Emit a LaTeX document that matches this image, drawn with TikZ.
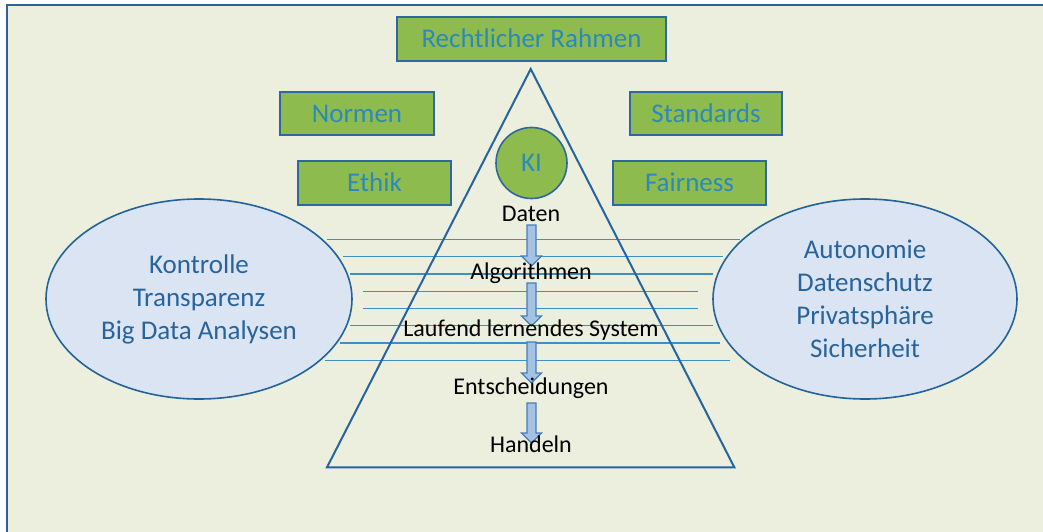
\documentclass[tikz,border=0pt]{standalone}
\usepackage{fontspec}
\setmainfont{Carlito}
\definecolor{bgc}{RGB}{236,239,221}
\definecolor{framec}{RGB}{47,98,150}
\definecolor{greenc}{RGB}{142,187,78}
\definecolor{boxborder}{RGB}{46,104,156}
\definecolor{boxtext}{RGB}{44,138,184}
\definecolor{ellfill}{RGB}{219,228,242}
\definecolor{ellborder}{RGB}{35,99,153}
\definecolor{elltext}{RGB}{40,100,156}
\definecolor{tric}{RGB}{37,100,158}
\definecolor{hlinec}{RGB}{62,142,200}
\definecolor{arrfill}{RGB}{164,194,226}
\definecolor{arrborder}{RGB}{70,125,185}
\tikzset{
  greenbox/.style={draw=boxborder, line width=1.6pt, fill=greenc, text=boxtext,
    font=\fontsize{27}{30}\selectfont, inner sep=0pt, text height=17.2pt, text depth=0pt},
  kicircle/.style={circle, draw=boxborder, line width=1.6pt, fill=greenc, text=boxtext,
    font=\fontsize{27}{30}\selectfont, inner sep=0pt, minimum size=71pt, text height=17.2pt, text depth=0pt},
  ellnode/.style={ellipse, draw=ellborder, line width=1.6pt, fill=ellfill, text=elltext,
    align=center, inner sep=0pt, font=\fontsize{27}{33}\selectfont},
  pyrlabel/.style={anchor=base, inner sep=0pt, text=black, font=\fontsize{24}{28}\selectfont},
  hline/.style={draw=hlinec, line width=1.2pt},
  tristy/.style={draw=tric, line width=2pt, line join=miter},
  blockarr/.style={fill=arrfill, draw=arrborder, line width=1.2pt, line join=miter},
}
\usetikzlibrary{shapes.geometric}
\newcommand\BlockArr[2]{%
  \filldraw[blockarr] (527,#1) -- (536,#1) -- (536,#2-10) -- (541.5,#2-10) -- (531.5,#2)
    -- (521.5,#2-10) -- (527,#2-10) -- cycle;}
\begin{document}
\begin{tikzpicture}[x=1pt,y=-1pt]
\useasboundingbox (0,0) rectangle (1043,532);
\fill[white] (0,0) rectangle (1043,532);
\fill[bgc] (7,5) rectangle (1043,532);
\draw[framec, line width=2.4pt] (7,540) -- (7,5) -- (1050,5);

% horizontal lines
\draw[hline] (327,239.3) -- (740,239.3);
\draw[hline] (343,256.7) -- (723,256.7);
\draw[hline] (350,274) -- (713,274);
\draw[hline] (363,291.3) -- (698,291.3);
\draw[hline] (363,308.3) -- (698,308.3);
\draw[hline] (350,325.7) -- (713,325.7);
\draw[hline] (340,343) -- (720,343);
\draw[hline] (325,360.3) -- (730,360.3);

% pyramid
\coordinate (apex) at (530.7,69);
\coordinate (bl) at (327,467.3);
\coordinate (br) at (734.3,467.3);
\draw[tristy] (apex) -- (bl) -- (br) -- cycle;

% ellipses
\node[ellnode, minimum width=306pt, minimum height=200pt] (left) at (199,299)
  {Kontrolle\\Transparenz\\Big Data Analysen};
\node[ellnode, minimum width=304pt, minimum height=200pt] (right) at (865,299)
  {Autonomie\\Datenschutz\\Privatsphäre\\Sicherheit};

% green boxes
\node[greenbox, minimum width=269pt, minimum height=44pt] (rr) at (531.5,39) {Rechtlicher Rahmen};
\node[greenbox, minimum width=154pt, minimum height=43pt] (normen) at (357,113.5) {Normen};
\node[greenbox, minimum width=153pt, minimum height=44pt] (ethik) at (374.5,183) {Ethik};
\node[greenbox, minimum width=152pt, minimum height=43pt] (standards) at (706,113.5) {Standards};
\node[greenbox, minimum width=153pt, minimum height=44pt] (fairness) at (689.5,183) {Fairness};
\node[kicircle] (ki) at (531.5,163) {KI};

% block arrows
\BlockArr{225}{266}
\BlockArr{283}{326}
\BlockArr{342}{383}
\BlockArr{403}{443}

% pyramid labels
\node[pyrlabel] (daten) at (531,221.7) {Daten};
\node[pyrlabel] (algo) at (531,279) {Algorithmen};
\node[pyrlabel] (lern) at (531,336.7) {Laufend lernendes System};
\node[pyrlabel] (ent) at (531,394) {Entscheidungen};
\node[pyrlabel] (hand) at (531,452) {Handeln};
\end{tikzpicture}
\end{document}
